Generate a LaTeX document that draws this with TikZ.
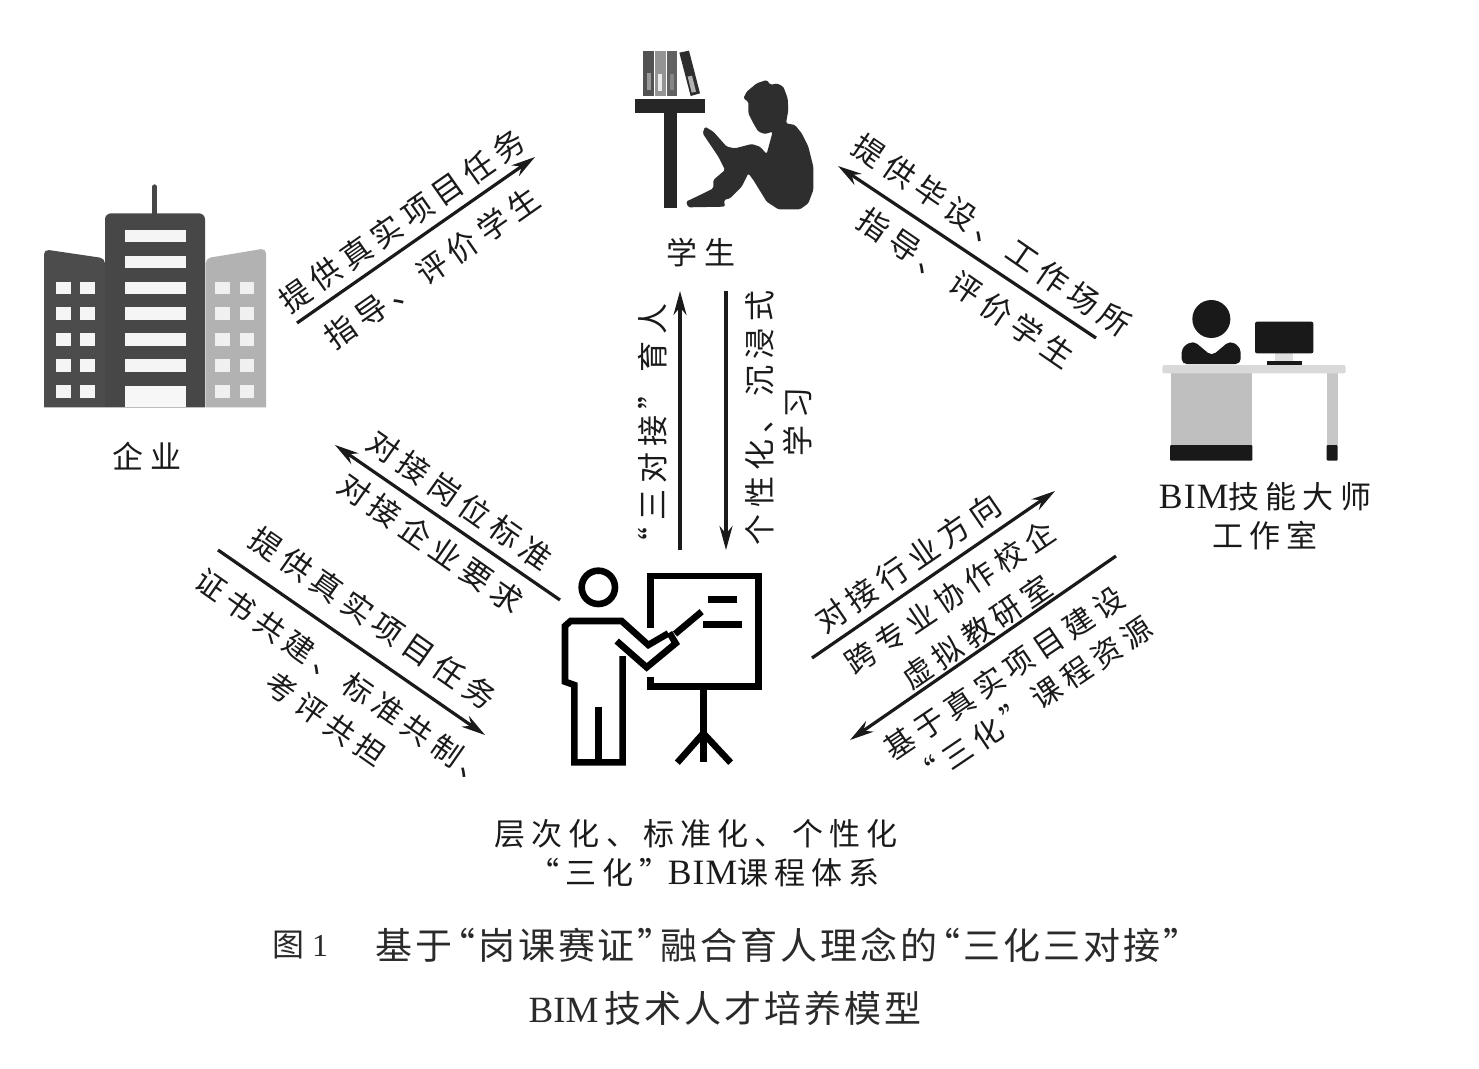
\documentclass[tikz,border=0pt]{standalone}
\usepackage{fontspec}
\usetikzlibrary{arrows.meta}
\newfontfamily\cj[LetterSpace=20]{Noto Sans CJK SC}
\newfontfamily\cjcap[LetterSpace=8]{Noto Sans CJK SC}
\newfontfamily\lat{Liberation Serif}
\newfontfamily\latb[Scale=1.15,LetterSpace=3]{Liberation Serif}
\newcommand\qo[1]{\kern-#1pt“}
\newcommand\qc[1]{”\kern-#1pt}
\definecolor{ink}{HTML}{1A1A1A}
\definecolor{capink}{HTML}{2A2A2A}
\tikzset{
  lab/.style={font=\fontsize{31}{38}\selectfont\cj, text=ink, inner sep=0pt, align=center},
  labtight/.style={font=\fontsize{30}{38}\selectfont\cj, text=ink, inner sep=0pt, align=center},
  captext/.style={font=\fontsize{37}{44}\selectfont\cjcap, text=capink, inner sep=0pt},
  flow/.style={draw=ink, line width=3.2pt, -{Stealth[length=24pt,width=13pt]}},
  teach/.style={draw=black, line width=6.6pt, miter limit=10},
}
\begin{document}
\begin{tikzpicture}[x=1pt,y=-1pt]
\path[use as bounding box, fill=white] (0,0) rectangle (1479,1068);

% --- student icon
\begin{scope}[shift={(620,30)},scale=1/3]
  \fill[black!68] (70,62) rectangle (103,198);
  \fill[black!42] (105,62) rectangle (138,198);
  \fill[black!62] (142,62) rectangle (172,198);
  \fill[black!82] (178,68) -- (207,62) -- (240,190) -- (212,198) -- cycle;
  \fill[black!40] (80,130) rectangle (92,180);
  \fill[black!8] (115,132) rectangle (127,182);
  \fill[black!48] (150,132) rectangle (162,180);
  \fill[black!30] (203,140) -- (216,137) -- (228,185) -- (215,188) -- cycle;
  \fill[black!85] (45,207) rectangle (255,250);
  \fill[black!85] (132,250) rectangle (170,535);
  \fill[black!82, rounded corners=1.5pt]
    (440,150) -- (452,165) -- (470,160) -- (490,170) -- (503,205) -- (505,240)
    -- (498,280) -- (525,285) -- (545,310) -- (565,350) -- (580,410) -- (580,480)
    -- (565,520) -- (540,538) -- (475,538) -- (440,515) -- (400,450) -- (385,430)
    -- (365,470) -- (330,505) -- (312,510) -- (315,530) -- (205,532) -- (198,515)
    -- (240,495) -- (280,475) -- (280,450) -- (315,420) -- (295,380) -- (248,310)
    -- (255,290) -- (280,305) -- (320,350) -- (345,355) -- (395,342) -- (420,350)
    -- (440,372) -- (450,335) -- (458,305) -- (435,312) -- (415,305) -- (400,280)
    -- (385,250) -- (385,215) -- (370,205) -- (380,185) -- (410,160) -- cycle;
\end{scope}

% --- enterprise icon
\begin{scope}[shift={(30,170)},scale=1/3]
  \draw[black!72, line width=4.6pt, line cap=round] (374,50) -- (374,132);
  \fill[black!70, rounded corners=5pt] (42,600) -- (42,238) -- (225,265) -- (225,600) [sharp corners] -- (225,712) -- (42,712) -- cycle;
  \fill[black!30, rounded corners=5pt] (527,600) -- (527,265) -- (708,235) -- (708,600) [sharp corners] -- (708,712) -- (527,712) -- cycle;
  \fill[black!72, rounded corners=6pt] (225,600) -- (225,130) -- (525,130) -- (525,600) [sharp corners] -- (525,712) -- (225,712) -- cycle;
  \foreach \ya/\yb in {180/217,257/295,335/373,412/450,490/528,568/606}
    \fill[black!4] (285,\ya) rectangle (467,\yb);
  \fill[black!3] (285,647) rectangle (467,712);
  \foreach \ya/\yb in {335/373,412/450,490/528,568/606,646/684}{
    \fill[black!4] (77,\ya) rectangle (122,\yb);
    \fill[black!4] (150,\ya) rectangle (195,\yb);
    \fill[black!6] (555,\ya) rectangle (600,\yb);
    \fill[black!6] (630,\ya) rectangle (673,\yb);
  }
\end{scope}

% --- studio icon
\begin{scope}[shift={(1150,290)},scale=1/3]
  \fill[black!90] (184,87) circle (57);
  \fill[black!90, rounded corners=5pt] (95,222) -- (95,172) -- (130,152) -- (185,198) -- (240,152) -- (272,172) -- (272,222) -- cycle;
  \fill[black!12] (375,172) rectangle (430,215);
  \fill[black!90, rounded corners=2pt] (315,95) rectangle (490,190);
  \fill[black!90] (350,214) rectangle (457,224);
  \fill[black!25] (62,250) rectangle (305,465);
  \fill[black!90, rounded corners=1pt] (60,465) rectangle (307,512);
  \fill[black!22] (530,250) rectangle (563,465);
  \fill[black!90, rounded corners=1pt] (530,465) rectangle (563,512);
  \fill[black!15, rounded corners=2pt] (37,225) rectangle (587,250);
\end{scope}

% --- teacher icon
\begin{scope}[shift={(540,560)},scale=1/3]
  \draw[teach] (175,82) circle (50);
  \draw[teach] (385,220) -- (325,255) -- (245,183) -- (92,183) -- (75,198) -- (75,365) -- (103,375) -- (103,607) -- (248,607) -- (248,288);
  \draw[teach] (175,440) -- (175,607);
  \draw[teach] (230,243) -- (320,322) -- (407,250) -- (388,218);
  \draw[teach] (405,222) -- (485,155);
  \draw[teach] (332,205) -- (332,48) -- (655,48) -- (655,380) -- (332,380) -- (332,350);
  \draw[teach] (505,118) -- (591,118);
  \draw[teach] (490,193) -- (605,193);
  \draw[teach] (490,380) -- (490,605);
  \draw[teach] (490,520) -- (412,608);
  \draw[teach] (490,520) -- (572,608);
\end{scope}

% --- connector ends
\coordinate (e1a) at (297,323);  \coordinate (e1b) at (535,157);
\coordinate (w1a) at (1096,338); \coordinate (w1b) at (838,166);
\coordinate (s1a) at (726,291);  \coordinate (s1b) at (726,550);
\coordinate (s2a) at (680,550);  \coordinate (s2b) at (680,291);
\coordinate (t1a) at (560,600);  \coordinate (t1b) at (335,445);
\coordinate (t2a) at (218,550);  \coordinate (t2b) at (485,735);
\coordinate (r1a) at (812,658);  \coordinate (r1b) at (1055,491);
\coordinate (r2a) at (1116,556); \coordinate (r2b) at (850,740);
\foreach \p/\q in {e1a/e1b,w1a/w1b,s1a/s1b,s2a/s2b,t1a/t1b,t2a/t2b,r1a/r1b,r2a/r2b}
  \draw[flow] (\p) -- (\q);

% --- arrow labels
\node[lab,rotate=35] (la1) at (402,221) {提供真实项目任务};
\node[lab,rotate=35] (la2) at (432,268) {指导、评价学生};
\node[lab,rotate=-34.5] (lb1) at (992,235) {提供毕设、工作场所};
\node[lab,rotate=-34.5] (lb2) at (966,288) {指导、评价学生};
\node[lab,rotate=90] (lc1) at (653,431) {“三对接”育人};
\node[lab,rotate=90] (ld1) at (760,418) {个性化、沉浸式};
\node[lab,rotate=90] (ld2) at (798,422) {学习};
\node[lab,rotate=-35] (le1) at (460,500) {对接岗位标准};
\node[lab,rotate=-35] (le2) at (431,543) {对接企业要求};
\node[lab,rotate=-35] (lf1) at (373,618) {提供真实项目任务};
\node[labtight,rotate=-35] (lf2) at (344,678) {证书共建、标准共制、};
\node[labtight,rotate=-35] (lf3) at (326,719) {考评共担};
\node[lab,rotate=34.5] (lg1) at (908,563) {对接行业方向};
\node[labtight,rotate=34] (lg2) at (950,597) {跨专业协作校企};
\node[labtight,rotate=34.5] (lg3) at (977,632) {虚拟教研室};
\node[labtight,rotate=34] (lh1) at (1004,673) {基于真实项目建设};
\node[labtight,rotate=34] (lh2) at (1032,703) {“三化”课程资源};

% --- icon labels
\node[lab] (student) at (701,253) {学生};
\node[lab] (firm) at (147,456) {企业};
\node[lab] (studio1) at (1265,497) {{\latb BIM}技能大师};
\node[lab] (studio2) at (1265,536) {工作室};
\node[lab] (course1) at (696,834) {层次化、标准化、个性化};
\node[lab] (course2) at (708,873) {\qo{8}三化\qc{8}\kern5pt{\latb BIM}课程体系};

% --- caption
\node[captext,anchor=west,font=\fontsize{32}{40}\selectfont\cjcap] (c0) at (272,945) {图{\lat\ 1}};
\node[captext,anchor=west] (c1) at (375,945) {基于\qo{14}岗课赛证\qc{14}融合育人理念的\qo{14}三化三对接\qc{14}};
\node[captext] (c2) at (725,1008) {{\lat BIM}\,技术人才培养模型};
\end{tikzpicture}
\end{document}
